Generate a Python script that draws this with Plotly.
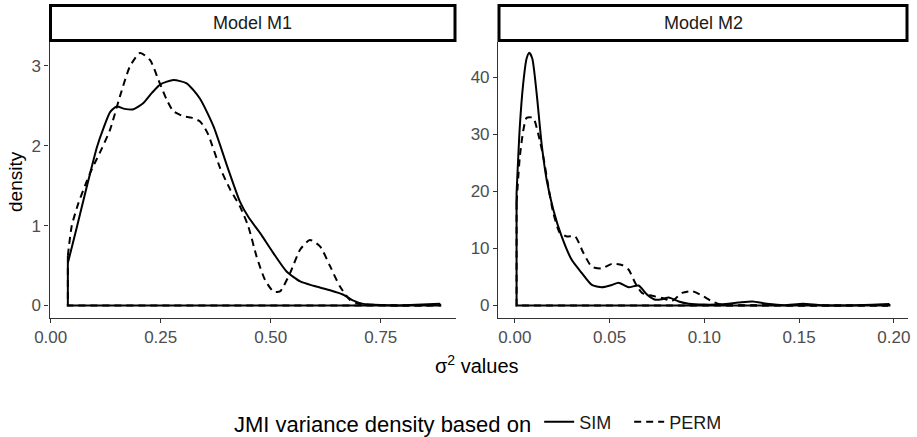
import plotly.graph_objects as go

W, H = 917, 437

# ---------------- data ----------------
panel_titles = ["Model M1", "Model M2"]
series_names = ["SIM", "PERM"]

sim1_x = [0.039, 0.059, 0.075, 0.089, 0.105, 0.12, 0.135, 0.15, 0.168, 0.188, 0.21, 0.23,
          0.25, 0.279, 0.309, 0.339, 0.37, 0.40, 0.43, 0.45, 0.476, 0.506, 0.536, 0.567,
          0.597, 0.635, 0.665, 0.688, 0.71, 0.755, 0.79, 0.83, 0.885]
sim1_y = [0.53, 0.97, 1.33, 1.64, 1.98, 2.22, 2.42, 2.49, 2.46, 2.455, 2.53, 2.66,
          2.77, 2.82, 2.78, 2.59, 2.24, 1.76, 1.30, 1.10, 0.905, 0.655, 0.425, 0.30,
          0.246, 0.19, 0.134, 0.06, 0.02, 0.005, 0.0, 0.01, 0.02]

perm1_x = [0.039, 0.048, 0.063, 0.078, 0.089, 0.10, 0.115, 0.135, 0.157, 0.18, 0.203,
           0.226, 0.245, 0.264, 0.279, 0.301, 0.32, 0.34, 0.357, 0.385, 0.408, 0.43,
           0.449, 0.468, 0.487, 0.506, 0.521, 0.544, 0.567, 0.589, 0.612, 0.635, 0.657,
           0.68, 0.70, 0.75, 0.80, 0.85, 0.885]
perm1_y = [0.62, 1.0, 1.28, 1.50, 1.65, 1.78, 1.95, 2.2, 2.61, 2.99, 3.16,
           3.07, 2.82, 2.57, 2.43, 2.37, 2.35, 2.30, 2.15, 1.72, 1.45, 1.24,
           0.99, 0.61, 0.32, 0.175, 0.175, 0.405, 0.70, 0.82, 0.74, 0.49, 0.24,
           0.07, 0.02, 0.005, 0.0, 0.0, 0.01]

sim2_x = [0.0009, 0.0026, 0.0044, 0.0062, 0.0076, 0.0092, 0.0115, 0.0141, 0.0168, 0.0203,
          0.0247, 0.030, 0.0353, 0.0406, 0.0459, 0.0512, 0.0547, 0.060, 0.0653, 0.0698,
          0.0742, 0.0777, 0.0812, 0.0865, 0.0918, 0.100, 0.109, 0.118, 0.1254, 0.133,
          0.142, 0.152, 0.162, 0.18, 0.1977]
sim2_y = [19.7, 31.3, 38.9, 43.3, 44.3, 43.3, 37.2, 28.4, 22.0, 16.8,
          12.1, 8.0, 5.7, 3.6, 3.2, 3.6, 4.0, 3.2, 3.5, 1.9,
          1.0, 1.1, 1.4, 0.7, 0.3, 0.15, 0.2, 0.5, 0.7, 0.3,
          0.05, 0.3, 0.05, 0.05, 0.25]

perm2_x = [0.0009, 0.0026, 0.0044, 0.0062, 0.0097, 0.0124, 0.015, 0.0177, 0.0203, 0.0238,
           0.0274, 0.0318, 0.0362, 0.0406, 0.0459, 0.0512, 0.0565, 0.060, 0.0636, 0.0671,
           0.0724, 0.0777, 0.083, 0.0883, 0.0936, 0.0989, 0.1042, 0.1095, 0.127, 0.15,
           0.175, 0.197]
perm2_y = [18.0, 26.0, 30.6, 32.9, 32.9, 30.0, 26.1, 20.8, 16.2, 12.7,
           12.1, 12.1, 9.2, 6.8, 6.5, 7.3, 7.1, 6.3, 3.9, 2.2,
           1.7, 1.3, 0.8, 2.2, 2.5, 1.7, 0.7, 0.1, 0.05, 0.0,
           0.0, 0.0]

x1_ticks = [0.0, 0.25, 0.5, 0.75]
x1_ticktext = ["0.00", "0.25", "0.50", "0.75"]
x2_ticks = [0.0, 0.05, 0.10, 0.15, 0.20]
x2_ticktext = ["0.00", "0.05", "0.10", "0.15", "0.20"]
y1_ticks = [0, 1, 2, 3]
y2_ticks = [0, 10, 20, 30, 40]

# ---------------- styling ----------------
FONT = "Liberation Sans, Arial, Helvetica, sans-serif"
TICK_COL = "#4D4D4D"


def px_x(p):
    return p / W


def px_y(p):
    return 1 - p / H


fig = go.Figure()

panels = [
    ("x", "y", [(sim1_x, sim1_y), (perm1_x, perm1_y)]),
    ("x2", "y2", [(sim2_x, sim2_y), (perm2_x, perm2_y)]),
]
dashes = ["solid", "7px,5px"]

for pi, (xa, ya, curves) in enumerate(panels):
    for si, (xs, ys) in enumerate(curves):
        # baseline and vertical edges of the density polygon
        fig.add_trace(go.Scatter(
            x=[xs[0], xs[0], xs[-1], xs[-1]], y=[ys[0], 0, 0, ys[-1]],
            mode="lines", xaxis=xa, yaxis=ya, showlegend=False, hoverinfo="skip",
            line=dict(color="black", width=2, dash=dashes[si]),
        ))
        fig.add_trace(go.Scatter(
            x=xs, y=ys, mode="lines", xaxis=xa, yaxis=ya,
            name=series_names[si], showlegend=(pi == 0), legendrank=si + 1,
            line=dict(color="black", width=2, dash=dashes[si], shape="spline", smoothing=0.6),
        ))

# plot areas in pixels
p1 = (49.5, 456)
p2 = (498, 908)
ytop, ybot = 42, 318

axis_common = dict(showline=True, linecolor="#333333", linewidth=1.1, ticks="outside",
                   ticklen=4, tickwidth=1.1, tickcolor="#333333", showgrid=False,
                   zeroline=False, automargin=False,
                   tickfont=dict(family=FONT, size=17, color=TICK_COL))

fig.update_layout(
    template="none",
    width=W, height=H, margin=dict(l=0, r=0, t=0, b=0, pad=0, autoexpand=False),
    paper_bgcolor="white", plot_bgcolor="white",
    font=dict(family=FONT, color="black"),
    xaxis=dict(domain=[px_x(p1[0]), px_x(p1[1])], range=[-0.0027, 0.921],
               tickvals=x1_ticks, ticktext=x1_ticktext, anchor="y", **axis_common),
    yaxis=dict(domain=[px_y(ybot), px_y(ytop)], range=[-0.157, 3.297],
               tickvals=y1_ticks, anchor="x", **axis_common),
    xaxis2=dict(domain=[px_x(p2[0]), px_x(p2[1])], range=[-0.0089, 0.2075],
                tickvals=x2_ticks, ticktext=x2_ticktext, anchor="y2", **axis_common),
    yaxis2=dict(domain=[px_y(ybot), px_y(ytop)], range=[-2.2, 46.2],
                tickvals=y2_ticks, anchor="x2", **axis_common),
    legend=dict(orientation="h", x=px_x(232), xanchor="left", y=px_y(423), yanchor="middle",
                title=dict(text="JMI variance density based on",
                           font=dict(family=FONT, size=22, color="black"), side="left"),
                font=dict(family=FONT, size=18, color="#1A1A1A"),
                entrywidth=45, entrywidthmode="pixels",
                itemwidth=30, tracegroupgap=0, bgcolor="rgba(0,0,0,0)"),
    showlegend=True,
)

# strips
for (l, r), title in zip([p1, p2], panel_titles):
    fig.add_shape(type="rect", xref="paper", yref="paper",
                  x0=px_x(l + 1), x1=px_x(r - 1), y0=px_y(40.5), y1=px_y(5.5),
                  line=dict(color="black", width=3), fillcolor="white", layer="above")
    fig.add_annotation(xref="paper", yref="paper", x=px_x((l + r) / 2), y=px_y(23),
                       text=title, showarrow=False, xanchor="center", yanchor="middle",
                       font=dict(family=FONT, size=18, color="#1A1A1A"))

# axis titles
fig.add_annotation(xref="paper", yref="paper", x=px_x(15), y=px_y(182),
                   text="density", textangle=-90, showarrow=False,
                   xanchor="center", yanchor="middle",
                   font=dict(family=FONT, size=19, color="black"))
fig.add_annotation(xref="paper", yref="paper", x=px_x(477), y=px_y(364),
                   text="σ<sup>2</sup> values", showarrow=False,
                   xanchor="center", yanchor="middle",
                   font=dict(family=FONT, size=20, color="black"))

fig.write_html("out.html", config={"displayModeBar": False},
               post_script="document.body.style.margin='0';document.body.style.padding='0';")
